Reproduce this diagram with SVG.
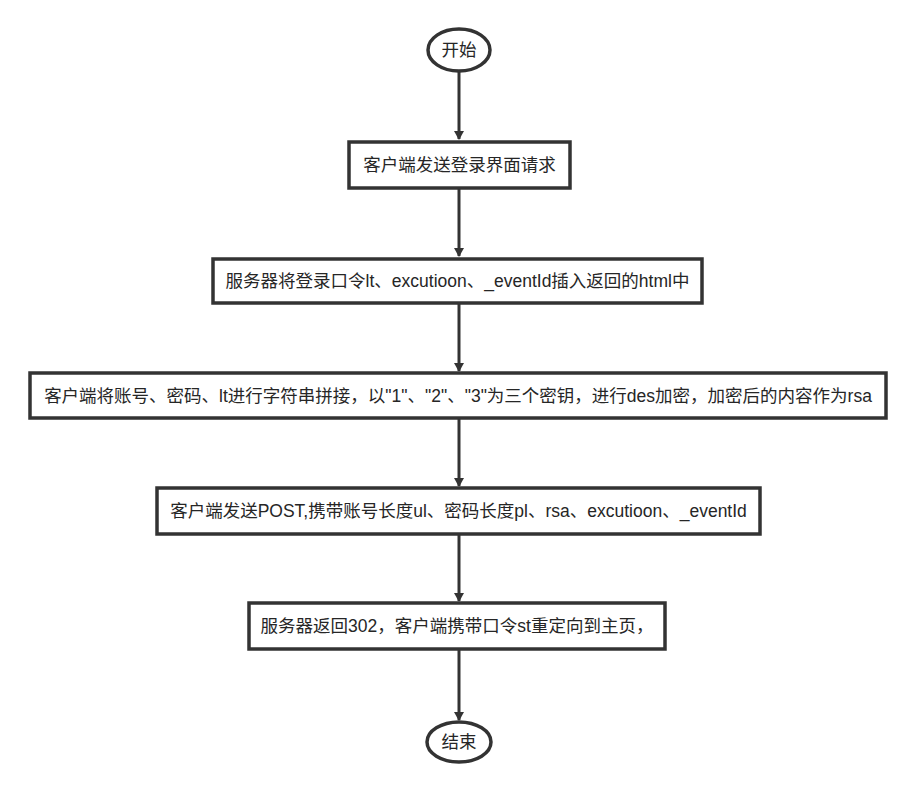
<svg xmlns="http://www.w3.org/2000/svg" width="912" height="787" viewBox="0 0 912 787">
<defs>
<marker id="arr" markerWidth="10" markerHeight="10" refX="8" refY="5" orient="auto" markerUnits="userSpaceOnUse">
<path d="M0,0 L9,5 L0,10 Z" fill="#333"/>
</marker>
<style>
.n{fill:#fff;stroke:#333;stroke-width:3.5}
.t{font-family:"Liberation Sans","Noto Sans CJK SC",sans-serif;font-size:17.5px;fill:#262626;text-anchor:middle;dominant-baseline:central}
.c{stroke:#333;stroke-width:3;fill:none}
</style>
</defs>
<rect width="912" height="787" fill="#fff"/>
<g id="connectors">
<line class="c" x1="459" y1="72" x2="459" y2="139" marker-end="url(#arr)"/>
<line class="c" x1="459" y1="189" x2="459" y2="256" marker-end="url(#arr)"/>
<line class="c" x1="459" y1="303" x2="459" y2="371" marker-end="url(#arr)"/>
<line class="c" x1="459" y1="418" x2="459" y2="486" marker-end="url(#arr)"/>
<line class="c" x1="459" y1="534" x2="459" y2="601" marker-end="url(#arr)"/>
<line class="c" x1="459" y1="649" x2="459" y2="720" marker-end="url(#arr)"/>
</g>
<g id="start">
<ellipse class="n" cx="459" cy="50" rx="31" ry="21"/>
<text class="t" x="459" y="50">开始</text>
</g>
<g id="step1">
<rect class="n" x="349" y="142" width="221" height="46"/>
<text class="t" x="459.5" y="165">客户端发送登录界面请求</text>
</g>
<g id="step2">
<rect class="n" x="213" y="259" width="489" height="44"/>
<text class="t" x="457.5" y="281">服务器将登录口令lt、excutioon、_eventId插入返回的html中</text>
</g>
<g id="step3">
<rect class="n" x="30" y="373" width="856" height="45"/>
<text class="t" x="458" y="395.5">客户端将账号、密码、lt进行字符串拼接，以"1"、"2"、"3"为三个密钥，进行des加密，加密后的内容作为rsa</text>
</g>
<g id="step4">
<rect class="n" x="157" y="488" width="603" height="46"/>
<text class="t" x="458.5" y="511">客户端发送POST,携带账号长度ul、密码长度pl、rsa、excutioon、_eventId</text>
</g>
<g id="step5">
<rect class="n" x="249" y="603" width="416" height="46"/>
<text class="t" x="457" y="626">服务器返回302，客户端携带口令st重定向到主页，</text>
</g>
<g id="end">
<ellipse class="n" cx="459" cy="742" rx="32" ry="20"/>
<text class="t" x="459" y="742">结束</text>
</g>
</svg>
